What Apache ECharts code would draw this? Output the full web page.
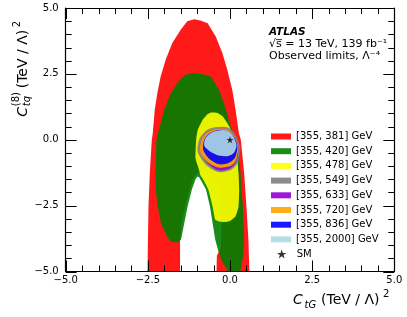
<!DOCTYPE html>
<html><head><meta charset="utf-8">
<script src="https://cdn.jsdelivr.net/npm/echarts@6/dist/echarts.min.js"></script>
<style>html,body{margin:0;padding:0;background:#fff}#c{width:407px;height:317px}</style>
</head><body><div id="c"></div>
<script>
// ---- data ----
const tickValues = [-5, -2.5, 0, 2.5, 5];
const minorTickValues = [-4.5, -4, -3.5, -3, -2, -1.5, -1, -0.5, 0.5, 1, 1.5, 2, 3, 3.5, 4, 4.5];
const xTickLabels = ['\u22125.0', '\u22122.5', '0.0', '2.5', '5.0'];
const yTickLabels = ['\u22125.0', '\u22122.5', '0.0', '2.5', '5.0'];
const rangeNames = ['[355, 381] GeV', '[355, 420] GeV', '[355, 478] GeV', '[355, 549] GeV',
                    '[355, 633] GeV', '[355, 720] GeV', '[355, 836] GeV', '[355, 2000] GeV'];
const smName = 'SM';
const smPoint = [[0, 0]];

const region381 = [[-2.51,-5.0],[-2.50,-4.0],[-2.48,-2.5],[-2.44,-1.25],[-2.38,0.0],[-2.35,0.25],[-2.29,1.14],[-2.21,1.77],[-2.11,2.40],[-1.96,3.03],[-1.76,3.66],[-1.50,4.17],[-1.30,4.50],[-1.09,4.57],[-0.90,4.53],[-0.68,4.42],[-0.43,3.91],[-0.23,3.28],[-0.08,2.65],[0.07,1.89],[0.17,1.14],[0.27,0.25],[0.33,0.0],[0.43,-1.26],[0.50,-2.53],[0.56,-3.79],[0.59,-5.0],
  [-0.41,-5.0],[-0.40,-4.4],[-0.28,-4.1],[-0.25,-3.0],[-0.32,-2.0],[-0.50,-1.4],[-0.75,-1.15],[-0.99,-1.25],[-1.14,-1.5],[-1.26,-2.0],[-1.38,-2.6],[-1.48,-3.2],[-1.52,-3.85],[-1.52,-5.0]];
const region420 = [[-1.49,-3.79],[-1.60,-3.90],[-1.80,-3.87],[-1.92,-3.66],[-2.10,-3.16],[-2.20,-2.53],[-2.26,-1.90],[-2.27,-1.26],[-2.24,0.0],[-2.16,0.40],[-2.00,1.14],[-1.80,1.77],[-1.54,2.27],[-1.35,2.47],[-1.14,2.53],[-0.85,2.50],[-0.58,2.40],[-0.33,1.89],[-0.15,1.26],[0.02,0.50],[0.12,0.20],[0.22,0.0],[0.32,-1.26],[0.39,-2.53],[0.43,-3.79],[0.40,-4.40],[0.32,-5.0],[-0.05,-5.0],[-0.25,-4.60],[-0.36,-4.20],[-0.45,-3.79],[-0.53,-3.16],[-0.61,-2.53],[-0.73,-1.89],[-0.88,-1.55],[-0.94,-1.42],[-0.99,-1.39],[-1.05,-1.50],[-1.16,-1.89],[-1.29,-2.53],[-1.39,-3.16]];
const region478 = [[-0.58,1.03],[-0.40,1.02],[-0.22,0.88],[-0.02,0.50],[0.13,0.06],[0.18,0.0],[0.26,-1.26],[0.28,-1.89],[0.26,-2.53],[0.17,-2.90],[0.0,-3.08],[-0.17,-3.12],[-0.35,-3.10],[-0.45,-3.03],[-0.53,-2.53],[-0.66,-1.89],[-0.82,-1.50],[-0.90,-1.35],[-0.95,-1.10],[-1.05,-0.70],[-1.03,0.0],[-0.98,0.38],[-0.83,0.76],[-0.70,0.95]];
const region549 = [[-0.37,0.48],[0.03,0.39],[0.29,-0.18],[0.29,-0.56],[0.17,-1.0],[-0.19,-1.22],[-0.53,-1.13],[-0.90,-0.67],[-0.98,-0.24],[-0.79,0.27]];
const region633 = [[-0.36,0.42],[0.01,0.33],[0.24,-0.18],[0.24,-0.55],[0.13,-0.95],[-0.19,-1.16],[-0.50,-1.07],[-0.84,-0.62],[-0.91,-0.24],[-0.74,0.23]];
const region720 = [[-0.36,0.42],[0.01,0.33],[0.24,-0.18],[0.23,-0.53],[0.11,-0.91],[-0.20,-1.05],[-0.50,-0.99],[-0.84,-0.62],[-0.91,-0.24],[-0.74,0.23]];
const region836 = [[-0.33,0.37],[-0.02,0.30],[0.20,-0.11],[0.20,-0.49],[0.08,-0.78],[-0.20,-0.93],[-0.48,-0.85],[-0.74,-0.56],[-0.82,-0.24],[-0.68,0.18]];
const region2000 = [[-0.33,0.35],[-0.02,0.29],[0.18,-0.11],[0.17,-0.37],[0.03,-0.58],[-0.23,-0.62],[-0.48,-0.53],[-0.68,-0.37],[-0.79,-0.18],[-0.66,0.18]];

const regions = [region381, region420, region478, region549, region633, region720, region836, region2000];
const regionColors = ['#ff0000', '#008000', '#ffff00', '#808080', '#9400d3', '#ffa500', '#0000ff', '#add8e6'];
const regionSmooth = [0, 0, 0.15, 0.45, 0.45, 0.45, 0.45, 0.45];

// ---- chart ----
const FONT = '"DejaVu Sans", sans-serif';
const AX_MIN = -5, AX_MAX = 5;
function tickLabel(labels) {
  return function (v) {
    for (let i = 0; i < tickValues.length; i++) if (Math.abs(v - tickValues[i]) < 1e-9) return labels[i];
    return '';
  };
}
function makeRegion(i) {
  const pts = regions[i], color = regionColors[i], smooth = regionSmooth[i];
  return {
    type: 'custom', name: rangeNames[i], coordinateSystem: 'cartesian2d',
    data: pts, encode: { x: 0, y: 1 }, silent: true, animation: false, clip: true,
    itemStyle: { color: color, opacity: 0.9 },
    renderItem: function (params, api) {
      if (params.dataIndex !== 0) return null;
      const points = pts.map(function (p) { return api.coord(p); });
      return { type: 'polygon', shape: { points: points, smooth: smooth }, style: { fill: color, opacity: 0.9 } };
    }
  };
}
// ticks on all four sides, placed through the axes' scales
function makeTicks(name, values, len) {
  return {
    type: 'custom', name: name, coordinateSystem: 'cartesian2d', silent: true, animation: false, clip: false, z: 20,
    data: values.map(function (v) { return [v, v]; }), encode: { x: 0, y: 1 },
    renderItem: function (params, api) {
      const v = api.value(0);
      const b = api.coord([v, AX_MIN]), t = api.coord([v, AX_MAX]);
      const l = api.coord([AX_MIN, v]), r = api.coord([AX_MAX, v]);
      const sx = Math.round(b[0]) + 0.5, sy = Math.round(l[1]) + 0.5;
      const st = { stroke: '#000', lineWidth: 1 };
      return { type: 'group', children: [
        { type: 'line', shape: { x1: sx, y1: b[1], x2: sx, y2: b[1] - len }, style: st },
        { type: 'line', shape: { x1: sx, y1: t[1], x2: sx, y2: t[1] + len }, style: st },
        { type: 'line', shape: { x1: l[0], y1: sy, x2: l[0] + len, y2: sy }, style: st },
        { type: 'line', shape: { x1: r[0], y1: sy, x2: r[0] - len, y2: sy }, style: st }
      ] };
    }
  };
}
function axis(position, labelOpt) {
  return {
    type: 'value', min: AX_MIN, max: AX_MAX, interval: 2.5, position: position,
    axisLine: { show: true, onZero: false, lineStyle: { color: '#000', width: 1.2 } },
    axisTick: { show: false }, minorTick: { show: false },
    splitLine: { show: false }, minorSplitLine: { show: false },
    axisLabel: labelOpt
  };
}

const series = regions.map(function (_, i) { return makeRegion(i); });
series.push({
  type: 'scatter', name: smName, data: smPoint, silent: true, animation: false, z: 6,
  symbol: 'path://M50,0 L61.8,35.1 L98.1,35.1 L68.8,56.7 L79.4,91.9 L50,70 L20.6,91.9 L31.2,56.7 L1.9,35.1 L38.2,35.1 Z',
  symbolSize: 7, itemStyle: { color: '#000' }
});
series.push(makeTicks('majorTicks', tickValues, 11));
series.push(makeTicks('minorTicks', minorTickValues, 6));

const chart = echarts.init(document.getElementById('c'), null, { renderer: 'canvas' });
chart.setOption({
  animation: false,
  backgroundColor: '#fff',
  grid: { left: 65.7, right: 12.7, top: 8, bottom: 45.5, containLabel: false },
  xAxis: [
    axis('bottom', { show: true, margin: 3.5, fontSize: 10, fontFamily: FONT, color: '#000', formatter: tickLabel(xTickLabels) }),
    axis('top', { show: false })
  ],
  yAxis: [
    axis('left', { show: true, margin: 7, fontSize: 10, fontFamily: FONT, color: '#000', formatter: tickLabel(yTickLabels) }),
    axis('right', { show: false })
  ],
  legend: [
    { data: rangeNames, orient: 'vertical', left: 271, top: 131.5, padding: 0, itemWidth: 20, itemHeight: 6, itemGap: 4.7,
      icon: 'rect', selectedMode: false, textStyle: { fontSize: 10, fontFamily: FONT, color: '#000' } },
    { data: [smName], orient: 'vertical', left: 277, top: 249, padding: 0, itemWidth: 20, itemHeight: 9,
      selectedMode: false, textStyle: { fontSize: 10, fontFamily: FONT, color: '#000' } }
  ],
  series: series,
  graphic: [
    { type: 'text', x: 269, y: 35.7 - 3.6, style: { text: 'ATLAS', font: 'italic bold 10.5px ' + FONT, fill: '#000', textAlign: 'left', textVerticalAlign: 'middle' } },
    { type: 'text', x: 269, y: 48.3 - 3.8, style: { text: '\u221As = 13 TeV, 139 fb\u207B\u00B9', font: '11px ' + FONT, fill: '#000', textAlign: 'left', textVerticalAlign: 'middle' } },
    { type: 'line', shape: { x1: 276, y1: 39.6, x2: 282, y2: 39.6 }, style: { stroke: '#000', lineWidth: 0.8 } },
    { type: 'text', x: 269, y: 60 - 3.8, style: { text: 'Observed limits, \u039B\u207B\u2074', font: '11px ' + FONT, fill: '#000', textAlign: 'left', textVerticalAlign: 'middle' } },
    { type: 'text', x: 293, y: 305.7 - 4.85, style: { text: 'C', font: 'italic 14px ' + FONT, fill: '#000', textAlign: 'left', textVerticalAlign: 'middle' } },
    { type: 'text', x: 304.5, y: 308.5 - 3.46, style: { text: 'tG', font: 'italic 10px ' + FONT, fill: '#000', textAlign: 'left', textVerticalAlign: 'middle' } },
    { type: 'text', x: 321, y: 305.7 - 4.85, style: { text: '(TeV / \u039B)', font: '14px ' + FONT, fill: '#000', textAlign: 'left', textVerticalAlign: 'middle' } },
    { type: 'text', x: 383, y: 298 - 3.46, style: { text: '2', font: '10px ' + FONT, fill: '#000', textAlign: 'left', textVerticalAlign: 'middle' } },
    { type: 'group', x: 28.3, y: 116.7, rotation: Math.PI / 2, children: [
      { type: 'text', x: 0, y: -4.85, style: { text: 'C', font: 'italic 14px ' + FONT, fill: '#000', textAlign: 'left', textVerticalAlign: 'middle' } },
      { type: 'text', x: 10.5, y: 3 - 3.46, style: { text: 'tq', font: 'italic 10px ' + FONT, fill: '#000', textAlign: 'left', textVerticalAlign: 'middle' } },
      { type: 'text', x: 10.5, y: -8 - 3.46, style: { text: '(8)', font: '10px ' + FONT, fill: '#000', textAlign: 'left', textVerticalAlign: 'middle' } },
      { type: 'text', x: 28.4, y: -4.85, style: { text: '(TeV / \u039B)', font: '14px ' + FONT, fill: '#000', textAlign: 'left', textVerticalAlign: 'middle' } },
      { type: 'text', x: 89.5, y: -7.5 - 3.46, style: { text: '2', font: '10px ' + FONT, fill: '#000', textAlign: 'left', textVerticalAlign: 'middle' } }
    ] }
  ]
});
</script>
</body></html>
